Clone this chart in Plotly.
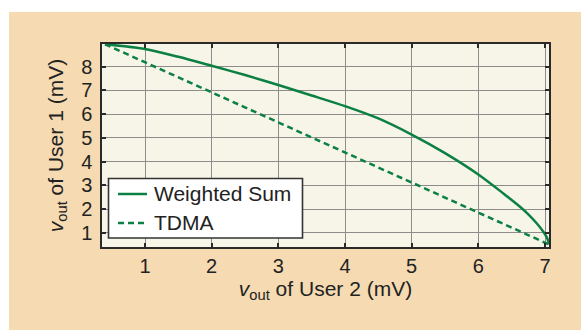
import plotly.graph_objects as go

# ---- data ----
ws_x = [0.40, 1.0, 1.5, 2.0, 2.5, 3.0, 3.5, 4.0, 4.5, 5.0, 5.5, 6.0, 6.375, 6.625, 6.75, 6.875, 6.975, 7.035, 7.06]
ws_y = [8.95, 8.75, 8.42, 8.04, 7.65, 7.23, 6.79, 6.34, 5.82, 5.14, 4.36, 3.46, 2.66, 2.10, 1.78, 1.40, 1.04, 0.76, 0.51]
tdma_x = [0.40, 7.05]
tdma_y = [8.95, 0.52]
x_ticks = [1, 2, 3, 4, 5, 6, 7]
y_ticks = [1, 2, 3, 4, 5, 6, 7, 8]
x_range = [0.355, 7.06]
y_range = [0.40, 8.96]
legend_names = ["Weighted Sum", "TDMA"]

GREEN = "#0b8043"
PEACH = "#f5dab2"
PLOTBG = "#f7f4e8"
TXT = "#222222"
FONT = "Liberation Sans, Arial, sans-serif"

W, H = 581, 330
ML, MR, MT, MB = 102, 32, 44, 83
PW, PH = W - ML - MR, H - MT - MB


def px_x(p):
    return (p - ML) / PW


def px_y(q):
    return (H - MB - q) / PH


fig = go.Figure()
fig.add_trace(go.Scatter(x=ws_x, y=ws_y, mode="lines", name=legend_names[0],
                         line=dict(color=GREEN, width=2.5, shape="spline", smoothing=0.8)))
fig.add_trace(go.Scatter(x=tdma_x, y=tdma_y, mode="lines", name=legend_names[1],
                         line=dict(color=GREEN, width=2.5, dash="6px,4px")))

# white strips outside the peach panel
fig.add_shape(type="rect", xref="paper", yref="paper", layer="below",
              x0=px_x(-5), x1=px_x(W + 5), y0=px_y(12), y1=px_y(-5),
              fillcolor="white", line_width=0)
fig.add_shape(type="rect", xref="paper", yref="paper", layer="below",
              x0=px_x(-5), x1=px_x(9), y0=px_y(H + 5), y1=px_y(-5),
              fillcolor="white", line_width=0)

# legend box drawn by hand for exact placement
fig.add_shape(type="rect", xref="paper", yref="paper", layer="above",
              x0=px_x(108.5), x1=px_x(302.5), y0=px_y(238), y1=px_y(178.5),
              fillcolor="white", line=dict(color="#333333", width=1.6))
rows = [194, 223]
dashes = ["solid", "6px,4px"]
for name, ry, dsh in zip(legend_names, rows, dashes):
    fig.add_shape(type="line", xref="paper", yref="paper", layer="above",
                  x0=px_x(118), x1=px_x(147), y0=px_y(ry), y1=px_y(ry),
                  line=dict(color=GREEN, width=2.5, dash=dsh))
    fig.add_annotation(xref="paper", yref="paper", x=px_x(152), y=px_y(ry - 0.5),
                       xanchor="left", yanchor="middle", showarrow=False,
                       text=name, font=dict(family=FONT, size=21, color=TXT))

axis_common = dict(
    showgrid=True, gridcolor="#8c8c8c", gridwidth=1.3,
    showline=True, linecolor="#2a2a2a", linewidth=1.5, mirror="ticks",
    ticks="inside", ticklen=4, tickwidth=1.5, tickcolor="#2a2a2a",
    tickfont=dict(family=FONT, size=20, color=TXT),
    zeroline=False, fixedrange=True,
)

fig.update_layout(
    width=W, height=H,
    margin=dict(l=ML, r=MR, t=MT, b=MB),
    paper_bgcolor=PEACH, plot_bgcolor=PLOTBG,
    font=dict(family=FONT, color=TXT),
    showlegend=False,
    xaxis=dict(range=x_range, tickvals=x_ticks, ticktext=[str(v) for v in x_ticks],
               title=dict(text="<i>v</i><sub>out</sub> of User 2 (mV)",
                          font=dict(family=FONT, size=21, color=TXT), standoff=5),
               **axis_common),
    yaxis=dict(range=y_range, tickvals=y_ticks, ticktext=[str(v) for v in y_ticks],
               ticklabelstandoff=4,
               title=dict(text="<i>v</i><sub>out</sub> of User 1 (mV)",
                          font=dict(family=FONT, size=21, color=TXT), standoff=12),
               **axis_common),
)

fig.write_html("out.html")
